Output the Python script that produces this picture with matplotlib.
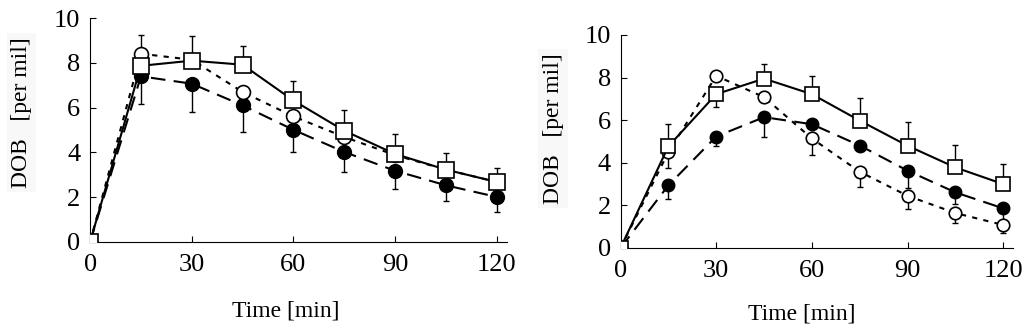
import matplotlib
matplotlib.use("Agg")
import matplotlib.pyplot as plt

# time points (min)
t = [0, 15, 30, 45, 60, 75, 90, 105, 120]

# left panel
L_sq = [0, 7.87, 8.10, 7.92, 6.32, 4.97, 3.93, 3.23, 2.68]
L_sq_up = [0, 1.38, 1.08, 0.85, 0.85, 0.93, 0.91, 0.74, 0.62]
L_oc = [0, 8.41, 8.14, 6.70, 5.61, 4.69, 3.88, 3.23, 2.68]
L_fc = [0, 7.40, 7.07, 6.10, 5.01, 4.02, 3.18, 2.53, 2.01]
L_fc_lo = [0, 1.22, 1.27, 1.19, 1.01, 0.91, 0.80, 0.71, 0.67]

# right panel
R_sq = [0, 4.77, 7.22, 7.95, 7.22, 5.98, 4.80, 3.78, 3.00]
R_sq_up = [0, 1.04, 0.0, 0.68, 0.84, 1.05, 1.09, 1.05, 0.94]
R_oc = [0, 4.50, 8.08, 7.08, 5.14, 3.58, 2.45, 1.64, 1.08]
R_oc_lo = [0, 0.75, 0.0, 0.0, 0.78, 0.72, 0.62, 0.47, 0.38]
R_fc = [0, 2.94, 5.23, 6.14, 5.81, 4.81, 3.63, 2.61, 1.86]
R_fc_lo = [0, 0.63, 0.42, 0.91, 0.0, 0.0, 0.80, 0.53, 0.53]
R_sq_lo30 = [0, 0, 0.58, 0, 0, 0, 0, 0, 0]

plt.rcParams['font.family'] = ['Liberation Serif', 'DejaVu Serif']

fig = plt.figure(figsize=(10.24, 3.36), dpi=100)
axL = fig.add_axes([0.088, 0.280, 0.407, 0.666])
axR = fig.add_axes([0.606, 0.262, 0.383, 0.634])

zeros = [0] * len(t)
eb = dict(fmt='none', ecolor='black', elinewidth=1.0, capsize=2.5, capthick=1.0)


def panel(ax, sq, sq_err, oc, oc_err, fc, fc_err, ms, xl, yl):
    ax.errorbar(t, sq, yerr=sq_err, **eb)
    ax.errorbar(t, oc, yerr=oc_err, **eb)
    ax.errorbar(t, fc, yerr=fc_err, **eb)
    ax.plot(t, fc, color='black', lw=1.5, ls=(0, (7, 4)), marker='o',
            ms=ms, mfc='black', mec='black', zorder=3)
    ax.plot(t, oc, color='black', lw=1.5, ls=(0, (2.5, 3)), marker='o',
            ms=ms, mfc='white', mec='black', mew=1.2, zorder=4)
    ax.plot(t, sq, color='black', lw=1.5, ls='-', marker='s',
            ms=ms + 1, mfc='white', mec='black', mew=1.2, zorder=5)
    ax.set_xlim(0, 123)
    ax.set_ylim(0, 10)
    ax.set_xticks([0, 30, 60, 90, 120])
    ax.set_yticks([0, 2, 4, 6, 8, 10])
    ax.tick_params(direction='in', length=4, labelsize=19)
    ax.tick_params(axis='y', pad=7)
    ax.tick_params(axis='x', pad=9)
    for s in ['top', 'right']:
        ax.spines[s].set_visible(False)
    ax.set_xlabel('Time [min]', fontsize=17)
    ax.set_ylabel('DOB   [per mil]', fontsize=17,
                  bbox=dict(facecolor='#f8f8f8', edgecolor='none', pad=3))
    ax.xaxis.set_label_coords(*xl)
    ax.yaxis.set_label_coords(*yl)


panel(axL, L_sq, [zeros, L_sq_up], L_oc, [zeros, zeros], L_fc, [L_fc_lo, zeros], 10,
      (0.47, -0.26), (-0.14, 0.58))
panel(axR, R_sq, [R_sq_lo30, R_sq_up], R_oc, [R_oc_lo, zeros], R_fc, [R_fc_lo, zeros], 9,
      (0.463, -0.26), (-0.145, 0.56))

fig.savefig('out.png', dpi=100)
